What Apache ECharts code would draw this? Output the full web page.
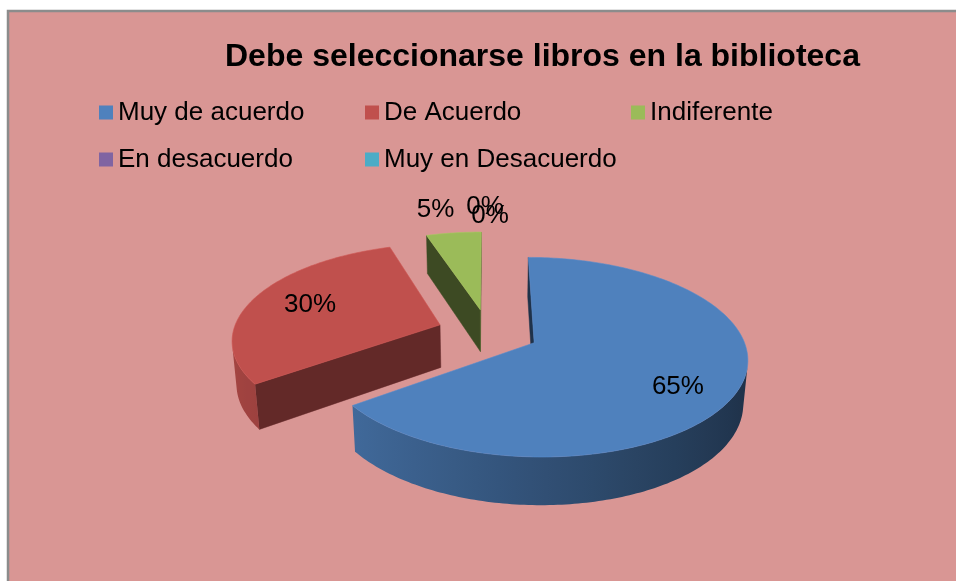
<!DOCTYPE html>
<html><head><meta charset="utf-8">
<script src="https://cdn.jsdelivr.net/npm/echarts@6/dist/echarts.min.js"></script>
<style>html,body{margin:0;padding:0;background:#fff}#c{width:956px;height:581px}</style>
</head><body><div id="c"></div>
<script>
// ---- data ----
const categories = ['Muy de acuerdo', 'De Acuerdo', 'Indiferente', 'En desacuerdo', 'Muy en Desacuerdo'];
const values = [65, 30, 5, 0, 0];
const titleText = 'Debe seleccionarse libros en la biblioteca';

// ---- styles ----
const colors = ['#4F81BD', '#C0504D', '#9BBB59', '#8064A2', '#4BACC6'];
const labelShift = [[4, 12], [1, -1], [-13, -9], [-3, -10], [2, -1]];
const FONT = '"Liberation Sans", Arial, sans-serif';

function shade(hex, f) {
  const n = parseInt(hex.slice(1), 16);
  const c = [(n >> 16) & 255, (n >> 8) & 255, n & 255].map(v => Math.max(0, Math.min(255, Math.round(v * f))));
  return 'rgb(' + c.join(',') + ')';
}

const total = values.reduce((a, b) => a + b, 0);

function makeRender(idx) {
  return function (params, api) {
    const W = api.getWidth(), H = api.getHeight();
    const g = { cx: W * 488 / 956, cy: H * 332 / 581, R: 207, alpha: 27.2 * Math.PI / 180, D: 1293, h: 49, d: 51 };
    const ca = Math.cos(g.alpha), sa = Math.sin(g.alpha);
    const cam = [0, g.D * sa, g.D * ca];
    function proj(X, Y, Z) {
      const up = Y * ca - Z * sa;
      const dc = Z * ca + Y * sa;
      const s = g.D / (g.D - dc);
      return [g.cx + X * s, g.cy - up * s];
    }
    let before = 0;
    for (let i = 0; i < idx; i++) before += values[i];
    const v = api.value(0);
    const a0 = 2 * Math.PI * before / total;
    const a1 = a0 + 2 * Math.PI * v / total;
    const m = (a0 + a1) / 2;
    const ox = g.d * Math.sin(m), oz = -g.d * Math.cos(m);
    const rim = (t, r) => [ox + r * Math.sin(t), oz - r * Math.cos(t)];
    const base = colors[idx];
    const children = [];
    if (v > 0) {
      const n = Math.max(2, Math.ceil((a1 - a0) / (Math.PI / 180)));
      const ts = [];
      for (let k = 0; k <= n; k++) ts.push(a0 + (a1 - a0) * k / n);
      // radial faces
      const radial = [[a0, a0 - Math.PI / 2], [a1, a1 + Math.PI / 2]];
      if (v < total) {
        radial.forEach(([t, na]) => {
          const p = rim(t, g.R);
          const mx = (ox + p[0]) / 2, mz = (oz + p[1]) / 2;
          const nx = Math.sin(na), nz = -Math.cos(na);
          const dot = nx * (cam[0] - mx) + nz * (cam[2] - mz);
          if (dot > 0) {
            const f = 0.47 + 0.08 * nx;
            children.push({
              type: 'polygon',
              shape: { points: [proj(ox, 0, oz), proj(p[0], 0, p[1]), proj(p[0], -g.h, p[1]), proj(ox, -g.h, oz)] },
              style: { fill: shade(base, f), stroke: shade(base, f), lineWidth: 0.5 }
            });
          }
        });
      }
      // outer wall
      const vis = [];
      for (let k = 0; k < n; k++) {
        const tm = (ts[k] + ts[k + 1]) / 2;
        const p = rim(tm, g.R);
        const nx = Math.sin(tm), nz = -Math.cos(tm);
        vis.push(nx * (cam[0] - p[0]) + nz * (cam[2] - p[1]) > 0);
      }
      let k = 0;
      while (k < n) {
        if (!vis[k]) { k++; continue; }
        let e = k;
        while (e < n && vis[e]) e++;
        const top = [], bot = [], samples = [];
        for (let j = k; j <= e; j++) {
          const p = rim(ts[j], g.R);
          const pt = proj(p[0], 0, p[1]);
          top.push(pt);
          bot.push(proj(p[0], -g.h, p[1]));
          const f = Math.max(0.36, Math.min(0.9, 0.62 - 0.24 * Math.sin(ts[j])));
          samples.push([pt[0], f]);
        }
        const pts = top.concat(bot.reverse());
        samples.sort((p, q) => p[0] - q[0]);
        const xmin = samples[0][0], xmax = samples[samples.length - 1][0];
        const stops = [];
        const step = Math.max(1, Math.floor(samples.length / 12));
        for (let j = 0; j < samples.length; j += step) {
          stops.push({ offset: xmax > xmin ? (samples[j][0] - xmin) / (xmax - xmin) : 0, color: shade(base, samples[j][1]) });
        }
        const last = samples[samples.length - 1];
        stops.push({ offset: 1, color: shade(base, last[1]) });
        children.push({
          type: 'polygon',
          shape: { points: pts },
          style: { fill: new echarts.graphic.LinearGradient(0, 0, 1, 0, stops) }
        });
        k = e;
      }
      // top face
      const topPts = [proj(ox, 0, oz)];
      ts.forEach(t => { const p = rim(t, g.R); topPts.push(proj(p[0], 0, p[1])); });
      children.push({
        type: 'polygon',
        shape: { points: topPts },
        style: { fill: base, stroke: shade(base, 1.08), lineWidth: 0.6 }
      });
    }
    // label
    const pct = Math.round(v / total * 100);
    let lp;
    if (pct >= 10) {
      const p = rim(m, g.R * 0.7);
      lp = proj(p[0], 0, p[1]);
    } else {
      const rr = g.d + g.R * 1.22;
      lp = proj(rr * Math.sin(m), 0, -rr * Math.cos(m));
    }
    children.push({
      type: 'text',
      z2: 100,
      style: {
        text: pct + '%', x: lp[0] + labelShift[idx][0], y: lp[1] + labelShift[idx][1],
        align: 'center', verticalAlign: 'middle',
        fontSize: 26, fontFamily: FONT, fill: '#000'
      }
    });
    return { type: 'group', children: children };
  };
}

const series = categories.map((name, i) => ({
  type: 'custom',
  name: name,
  coordinateSystem: 'none',
  color: colors[i],
  itemStyle: { color: colors[i] },
  data: [values[i]],
  renderItem: makeRender(i),
  z: 10 + i
}));

const chart = echarts.init(document.getElementById('c'), null, { renderer: 'canvas' });
chart.setOption({
  animation: false,
  backgroundColor: '#ffffff',
  graphic: [{
    type: 'rect', z: -10, silent: true,
    shape: { x: 8, y: 11, width: 960, height: 590 },
    style: { fill: '#D99694', stroke: '#8C8C8C', lineWidth: 2.5 }
  }],
  title: {
    text: titleText,
    left: 225, top: 40, padding: 0,
    textStyle: { fontSize: 32, fontWeight: 'bold', fontFamily: FONT, color: '#000', lineHeight: 34 }
  },
  legend: {
    data: categories,
    left: 99, top: 99, width: 810, padding: 0,
    orient: 'horizontal',
    icon: 'rect', itemWidth: 14, itemHeight: 14, itemGap: 20,
    textStyle: { fontSize: 26, fontFamily: FONT, color: '#000', width: 227, lineHeight: 27 },
    selectedMode: false
  },
  series: series
});
</script>
</body></html>
